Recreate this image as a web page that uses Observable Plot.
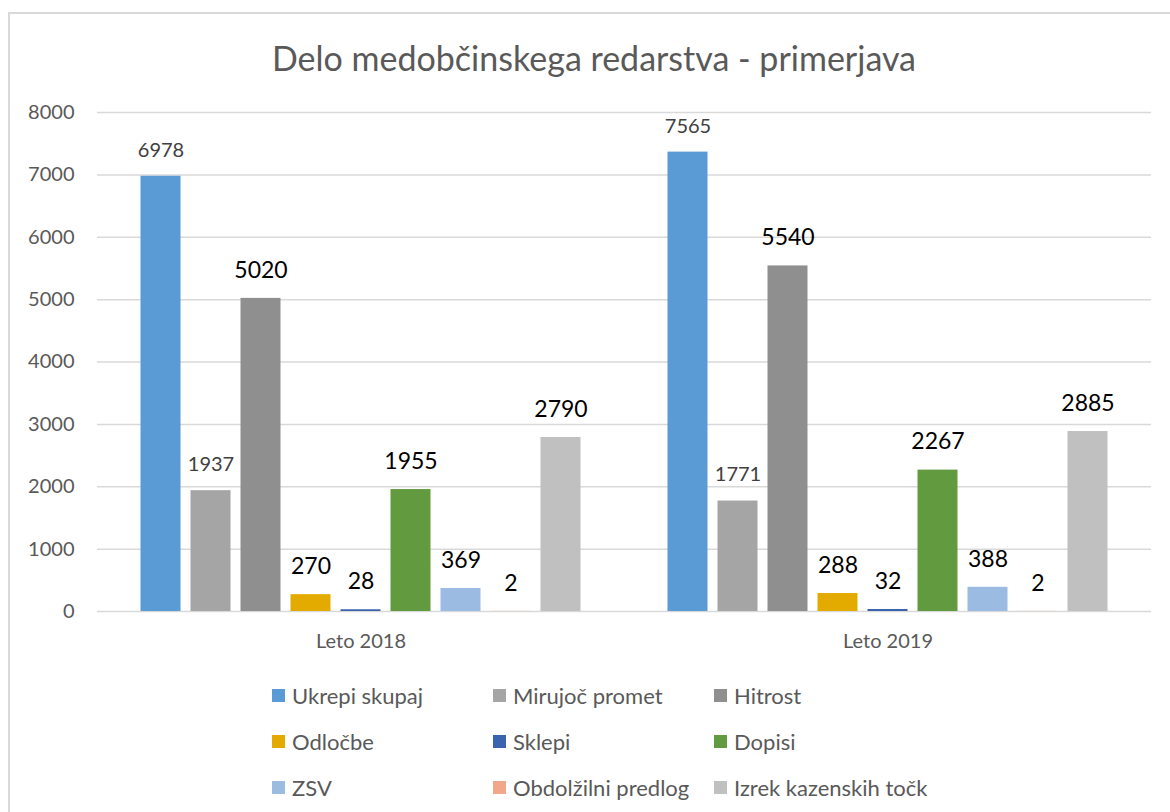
<!DOCTYPE html>
<html>
<head>
<meta charset="utf-8">
<script src="https://cdn.jsdelivr.net/npm/d3@7"></script>
<script src="https://cdn.jsdelivr.net/npm/@observablehq/plot@0.6"></script>
<style>
  html, body { margin: 0; padding: 0; background: #fff; overflow: hidden; }
  body { width: 1170px; height: 812px; position: relative; font-family: Lato, "Open Sans", sans-serif; }
  #frame { position: absolute; left: 8px; top: 12px; width: 1200px; height: 900px; border: 2px solid #d9d9d9; box-sizing: border-box; }
  #title { position: absolute; left: 0; width: 1188px; top: 36px; height: 44px; line-height: 44px; text-align: center; font-size: 34px; color: #595959; }
  #chart { position: absolute; left: 0; top: 90px; }
  #legend { position: absolute; left: 272px; top: 682px; display: grid; grid-template-columns: 221px 221px 221px; grid-auto-rows: 46px; }
  .item { display: flex; align-items: center; height: 26px; font-size: 22px; color: #595959; white-space: nowrap; }
  .sw { width: 13px; height: 13px; margin-right: 7px; flex: none; }
</style>
</head>
<body>
<div id="frame"></div>
<div id="title">Delo medobčinskega redarstva - primerjava</div>
<div id="chart"></div>
<div id="legend"></div>
<script>
const years = ["Leto 2018", "Leto 2019"];
const series = ["Ukrepi skupaj", "Mirujoč promet", "Hitrost", "Odločbe", "Sklepi", "Dopisi", "ZSV", "Obdolžilni predlog", "Izrek kazenskih točk"];
const colors = ["#5b9bd5", "#a5a5a5", "#8f8f8f", "#e3ab00", "#3c64ae", "#629b3f", "#9cbbe2", "#f1a78a", "#c0c0c0"];
const values2018 = [6978, 1937, 5020, 270, 28, 1955, 369, 2, 2790];
const values2019 = [7365, 1771, 5540, 288, 32, 2267, 388, 2, 2885];
const labels2018 = ["6978", "1937", "5020", "270", "28", "1955", "369", "2", "2790"];
const labels2019 = ["7565", "1771", "5540", "288", "32", "2267", "388", "2", "2885"];
const yTicks = [0, 1000, 2000, 3000, 4000, 5000, 6000, 7000, 8000];

const data = [];
series.forEach((s, i) => {
  data.push({year: years[0], series: s, value: values2018[i], label: labels2018[i]});
  data.push({year: years[1], series: s, value: values2019[i], label: labels2019[i]});
});
const smallLabel = new Set(["Ukrepi skupaj", "Mirujoč promet"]);

const chart = Plot.plot({
  width: 1170,
  height: 571,
  marginTop: 22,
  marginBottom: 50,
  marginLeft: 97,
  marginRight: 19,
  style: {fontFamily: "Lato, 'Open Sans', sans-serif", color: "#595959", background: "transparent"},
  fx: {domain: years, padding: 0, label: null, round: false},
  x: {domain: series, paddingInner: 0.2, paddingOuter: 0.87, axis: null, round: false},
  y: {domain: [0, 8000], label: null},
  color: {domain: series, range: colors},
  marks: [
    Plot.gridY(yTicks.filter(t => t > 0), {stroke: "#d9d9d9", strokeOpacity: 1, strokeWidth: 1.5}),
    Plot.ruleY([0], {stroke: "#d9d9d9", strokeWidth: 1.5}),
    Plot.barY(data, {fx: "year", x: "series", y: "value", fill: "series", insetLeft: 0, insetRight: 0}),
    Plot.text(data.filter(d => smallLabel.has(d.series)), {fx: "year", x: "series", y: "value", text: "label", dy: -26, fontSize: 20, fill: "#404040", lineAnchor: "middle"}),
    Plot.text(data.filter(d => !smallLabel.has(d.series)), {fx: "year", x: "series", y: "value", text: "label", dy: -28, fontSize: 23, fill: "#000000", lineAnchor: "middle"}),
    Plot.axisY(yTicks, {tickSize: 0, tickPadding: 23, fontSize: 20, fill: "#595959", label: null, tickFormat: d => String(d)}),
    Plot.axisFx({anchor: "bottom", tickSize: 0, tickPadding: 22, fontSize: 20, fill: "#595959", label: null})
  ]
});
document.getElementById("chart").appendChild(chart);

const legend = document.getElementById("legend");
series.forEach((s, i) => {
  const item = document.createElement("div");
  item.className = "item";
  const sw = document.createElement("span");
  sw.className = "sw";
  sw.style.background = colors[i];
  const t = document.createElement("span");
  t.textContent = s;
  item.appendChild(sw);
  item.appendChild(t);
  legend.appendChild(item);
});
</script>
</body>
</html>
